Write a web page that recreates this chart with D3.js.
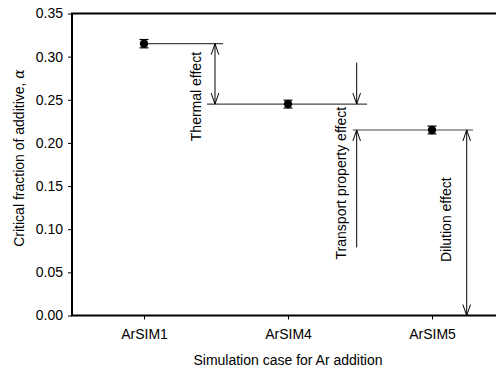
<!DOCTYPE html>
<html><head><meta charset="utf-8">
<script src="https://cdn.jsdelivr.net/npm/d3@7/dist/d3.min.js"></script>
<style>body{margin:0;background:#fff}svg{display:block}text{font-family:"Liberation Sans",Arial,sans-serif;fill:#000}</style>
</head><body>
<script>
const categories = ["ArSIM1","ArSIM4","ArSIM5"];
const alphaValues = [0.315, 0.245, 0.215];
const alphaErrors = [0.0048, 0.0045, 0.0045];
const yTicks = [0.00,0.05,0.10,0.15,0.20,0.25,0.30,0.35];
// reference lines: [y value, x start (category index units), x end]
const refLines = [[0.315, 0.0, 0.549],[0.245, 0.4375, 1.549],[0.215, 1.449, 2.285]];
// arrows: [x (index units), y from, y to, double?]
const arrows = [[0.493,0.245,0.315,true],[1.477,0.293,0.245,false],[1.477,0.079,0.215,false],[2.241,0.215,0.0,true]];
const labels = [["Thermal effect",0.397,0.202],["Transport property effect",1.406,0.065],["Dilution effect",2.134,0.062]];

const W=496,H=371, mLeft=72, mTop=13.5, mBottom=315.5, mRight=504;
const svg=d3.select("body").append("svg").attr("width",W).attr("height",H);
const x=d3.scaleLinear().domain([-0.5,2.5]).range([mLeft,mRight]);
const y=d3.scaleLinear().domain([0,0.35]).range([mBottom,mTop]);

// axes
const ya=svg.append("g").attr("transform",`translate(${mLeft},0)`).call(d3.axisLeft(y).tickValues(yTicks).tickFormat(d3.format(".2f")).tickSize(4).tickPadding(5));
ya.select(".domain").remove();
ya.selectAll("text").style("font-size","14px");
ya.selectAll("line").attr("stroke","#000");
const xa=svg.append("g").attr("transform",`translate(0,${mBottom})`).call(d3.axisBottom(x).tickValues([0,1,2]).tickFormat(i=>categories[i]).tickSize(4).tickPadding(10));
xa.select(".domain").remove();
xa.selectAll("text").style("font-size","14px");
// frame
svg.append("path").attr("d",`M${mRight},${mTop}H${mLeft}V${mBottom}H${mRight}`).attr("fill","none").attr("stroke","#000").attr("stroke-width",2);

// reference lines
svg.selectAll(".ref").data(refLines).enter().append("line")
 .attr("x1",d=>x(d[1])).attr("x2",d=>x(d[2])).attr("y1",d=>y(d[0])).attr("y2",d=>y(d[0]))
 .attr("stroke","#444").attr("stroke-width",1.2);

// arrows
function head(xp,yp,dir){ // dir: +1 pointing down, -1 pointing up
  return `M${xp-3.8},${yp-dir*11}L${xp},${yp}L${xp+3.8},${yp-dir*11}`;
}
arrows.forEach(a=>{
  const xp=x(a[0]), y1=y(a[1]), y2=y(a[2]);
  svg.append("line").attr("x1",xp).attr("x2",xp).attr("y1",y1).attr("y2",y2).attr("stroke","#000").attr("stroke-width",1);
  const dir = y2>y1?1:-1;
  svg.append("path").attr("d",head(xp,y2,dir)).attr("fill","none").attr("stroke","#000").attr("stroke-width",1);
  if(a[3]) svg.append("path").attr("d",head(xp,y1,-dir)).attr("fill","none").attr("stroke","#000").attr("stroke-width",1);
});

// error bars and points
const g=svg.append("g");
categories.forEach((c,i)=>{
  const cx=x(i), v=alphaValues[i], e=alphaErrors[i];
  g.append("line").attr("x1",cx).attr("x2",cx).attr("y1",y(v-e)).attr("y2",y(v+e)).attr("stroke","#000");
  [v-e,v+e].forEach(t=>g.append("line").attr("x1",cx-4.5).attr("x2",cx+4.5).attr("y1",y(t)).attr("y2",y(t)).attr("stroke","#000").attr("stroke-width",1.2));
  g.append("circle").attr("cx",cx).attr("cy",y(v)).attr("r",4.2).attr("fill","#000");
});

// annotation labels (rotated)
labels.forEach(l=>{
  svg.append("text").attr("transform",`translate(${x(l[1])},${y(l[2])}) rotate(-90)`).style("font-size","14px").text(l[0]);
});

// axis titles
svg.append("text").attr("x",(mLeft+mRight)/2).attr("y",365).attr("text-anchor","middle").style("font-size","14px").text("Simulation case for Ar addition");
svg.append("text").attr("transform",`translate(24,158) rotate(-90)`).attr("text-anchor","middle").style("font-size","14px")
 .text("Critical fraction of additive, ").append("tspan").style("font-family","'DejaVu Serif',serif").style("font-style","italic").text("α");
</script>
</body></html>
